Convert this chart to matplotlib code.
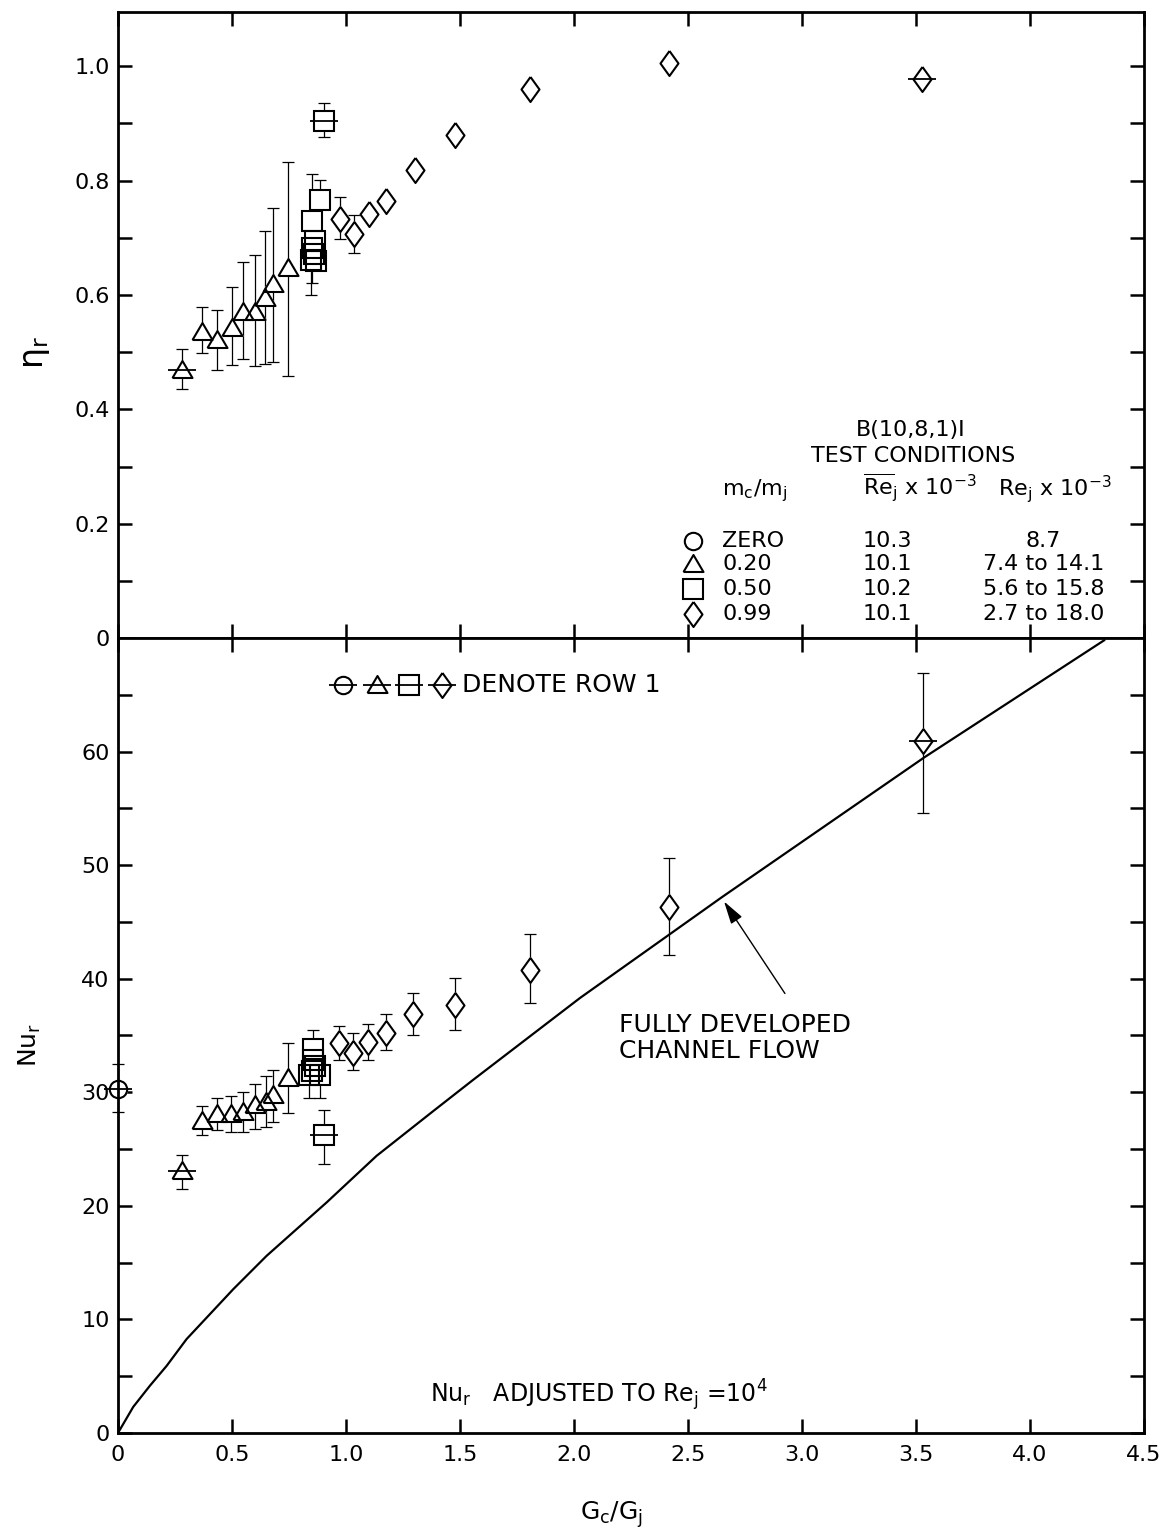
import numpy as np
import matplotlib
matplotlib.use('Agg')
import matplotlib.pyplot as plt
from matplotlib.ticker import MultipleLocator, FixedLocator, FuncFormatter

# ---- eta_r (top panel) ----
tri_x_eta = [0.279, 0.367, 0.433, 0.499, 0.547, 0.601, 0.645, 0.679, 0.747]
tri_eta = [0.468, 0.536, 0.521, 0.542, 0.571, 0.571, 0.594, 0.619, 0.647]
tri_eta_hi = [0.505, 0.579, 0.574, 0.614, 0.657, 0.670, 0.712, 0.752, 0.833]
tri_eta_lo = [0.435, 0.498, 0.469, 0.477, 0.488, 0.476, 0.480, 0.482, 0.458]

sq_x_eta = [0.904, 0.886, 0.851, 0.862, 0.850, 0.858, 0.845, 0.868]
sq_eta = [0.904, 0.766, 0.729, 0.695, 0.683, 0.672, 0.662, 0.660]
sq_eta_hi = [0.935, 0.801, 0.811, np.nan, np.nan, np.nan, np.nan, np.nan]
sq_eta_lo = [0.877, np.nan, np.nan, np.nan, 0.621, np.nan, 0.600, np.nan]

dia_x_eta = [0.974, 1.035, 1.101, 1.175, 1.303, 1.478, 1.807, 2.417, 3.524]
dia_eta = [0.733, 0.707, 0.742, 0.765, 0.819, 0.879, 0.960, 1.005, 0.977]
dia_eta_hi = [0.771, 0.740] + [np.nan] * 7
dia_eta_lo = [0.698, 0.674] + [np.nan] * 7

# ---- Nu_r (bottom panel) ----
circ_x_nu = [0.0]
circ_nu = [30.3]
circ_nu_hi = [32.5]
circ_nu_lo = [28.3]

tri_x_nu = [0.279, 0.367, 0.433, 0.495, 0.549, 0.601, 0.647, 0.679, 0.747]
tri_nu = [23.1, 27.5, 28.05, 28.05, 28.3, 28.85, 29.1, 29.8, 31.3]
tri_nu_hi = [24.45, 28.8, 29.5, 29.7, 30.0, 30.7, 31.4, 32.0, 34.3]
tri_nu_lo = [21.5, 26.2, 26.7, 26.5, 26.5, 26.8, 26.95, 27.4, 28.2]

sq_x_nu = [0.904, 0.857, 0.855, 0.862, 0.850, 0.838, 0.885]
sq_nu = [26.2, 33.8, 32.8, 32.3, 31.9, 31.5, 31.5]
sq_nu_hi = [28.4, 35.5, np.nan, np.nan, np.nan, np.nan, np.nan]
sq_nu_lo = [23.7, np.nan, np.nan, np.nan, np.nan, 29.5, 29.5]

dia_x_nu = [0.971, 1.032, 1.097, 1.175, 1.296, 1.478, 1.807, 2.417, 3.53]
dia_nu = [34.3, 33.5, 34.4, 35.2, 36.85, 37.7, 40.8, 46.35, 60.9]
dia_nu_hi = [35.8, 35.2, 36.0, 36.9, 38.75, 40.1, 43.9, 50.6, 66.9]
dia_nu_lo = [32.8, 32.0, 32.8, 33.7, 35.0, 35.5, 37.9, 42.1, 54.6]

# fully developed channel flow curve
curve_x = [0, 0.067, 0.14, 0.213, 0.301, 0.506, 0.652, 0.915, 1.134, 1.383,
           1.558, 2.026, 2.65, 3.537, 4.325]
curve_nu = [0, 2.3, 4.16, 5.9, 8.27, 12.67, 15.6, 20.3, 24.4, 28.35,
            31.1, 38.3, 47.2, 59.5, 69.8]

# legend table
cond_ratio = ['ZERO', '0.20', '0.50', '0.99']
cond_re_mean = ['10.3', '10.1', '10.2', '10.1']
cond_re_range = ['8.7', '7.4 to 14.1', '5.6 to 15.8', '2.7 to 18.0']

x_ticks = [0, 0.5, 1.0, 1.5, 2.0, 2.5, 3.0, 3.5, 4.0, 4.5]
x_tick_labels = ['0', '0.5', '1.0', '1.5', '2.0', '2.5', '3.0', '3.5', '4.0', '4.5']

TRI = [(-1, -0.75), (1, -0.75), (0, 0.95), (-1, -0.75)]
DIA = [(0, 1), (0.72, 0), (0, -1), (-0.72, 0), (0, 1)]
STYLE = {'o': ('o', 12.5), 'tri': (TRI, 14.4), 's': ('s', 14.4), 'dia': (DIA, 18)}


def draw_series(ax, x, y, lo, hi, kind, row1=None):
    x = np.array(x, float)
    y = np.array(y, float)
    lo = np.array(lo, float)
    hi = np.array(hi, float)
    marker, ms = STYLE[kind]
    zeros = np.zeros_like(y)
    kw = dict(fmt='none', ecolor='k', elinewidth=0.9, capsize=4.5, capthick=0.9,
              zorder=1, clip_on=False)
    ax.errorbar(x, y, yerr=[zeros, hi - y], **kw)
    ax.errorbar(x, y, yerr=[y - lo, zeros], **kw)
    ax.plot(x, y, ls='none', marker=marker, ms=ms, mfc='white', mec='white',
            mew=1.5, zorder=2, clip_on=False)
    ax.plot(x, y, ls='none', marker=marker, ms=ms, mfc='none', mec='k',
            mew=1.5, zorder=3, clip_on=False)
    if row1 is not None:
        ax.plot(x[row1], y[row1], ls='none', marker='_', ms=20, mew=1.3,
                color='k', zorder=4, clip_on=False)


def style_axes(ax):
    for s in ax.spines.values():
        s.set_linewidth(2.0)
    ax.tick_params(which='both', direction='in', length=10, width=1.8,
                   top=True, right=True, labelsize=16)
    ax.tick_params(axis='y', pad=6)
    ax.tick_params(axis='x', pad=9)
    ax.set_xlim(0, 4.5)
    ax.xaxis.set_major_locator(FixedLocator(x_ticks))


def main():
    plt.rcParams['font.family'] = 'DejaVu Sans'
    plt.rcParams['mathtext.default'] = 'regular'

    fig = plt.figure(figsize=(11.59, 15.40), dpi=100)
    ax1 = fig.add_axes([0.1018, 0.5857, 0.8853, 0.4065])
    ax2 = fig.add_axes([0.1018, 0.0695, 0.8853, 0.5162])

    # top panel
    style_axes(ax1)
    ax1.set_ylim(0, 1.095)
    ax1.yaxis.set_major_locator(FixedLocator([0, 0.2, 0.4, 0.6, 0.8, 1.0]))
    ax1.yaxis.set_minor_locator(FixedLocator([0.1, 0.3, 0.5, 0.7, 0.9]))
    ax1.yaxis.set_major_formatter(FuncFormatter(lambda v, p: '0' if v == 0 else f'{v:.1f}'))
    ax1.tick_params(axis='x', labelbottom=False)

    draw_series(ax1, tri_x_eta, tri_eta, tri_eta_lo, tri_eta_hi, 'tri', row1=[0])
    draw_series(ax1, sq_x_eta, sq_eta, sq_eta_lo, sq_eta_hi, 's', row1=[0])
    draw_series(ax1, dia_x_eta, dia_eta, dia_eta_lo, dia_eta_hi, 'dia', row1=[8])

    # test conditions table
    ax1.text(0.773, 0.332, 'B(10,8,1)I', transform=ax1.transAxes, ha='center',
             va='center', fontsize=16)
    ax1.text(0.775, 0.291, 'TEST CONDITIONS', transform=ax1.transAxes, ha='center',
             va='center', fontsize=16)
    ax1.text(0.589, 0.228, r'm$_\mathrm{c}$/m$_\mathrm{j}$', transform=ax1.transAxes,
             ha='left', va='baseline', fontsize=16)
    ax1.text(0.726, 0.228, r'$\overline{\mathrm{Re}}_\mathrm{j}$ x 10$^{-3}$',
             transform=ax1.transAxes, ha='left', va='baseline', fontsize=16)
    ax1.text(0.858, 0.228, r'Re$_\mathrm{j}$ x 10$^{-3}$', transform=ax1.transAxes,
             ha='left', va='baseline', fontsize=16)
    row_y = [0.155, 0.118, 0.078, 0.038]
    kinds = ['o', 'tri', 's', 'dia']
    for yy, k, c1, c2, c3 in zip(row_y, kinds, cond_ratio, cond_re_mean, cond_re_range):
        m, ms = STYLE[k]
        ax1.plot([0.560], [yy], transform=ax1.transAxes, ls='none', marker=m, ms=ms,
                 mfc='none', mec='k', mew=1.5)
        ax1.text(0.589, yy, c1, transform=ax1.transAxes, ha='left', va='center', fontsize=16)
        ax1.text(0.726, yy, c2, transform=ax1.transAxes, ha='left', va='center', fontsize=16)
        ax1.text(0.902, yy, c3, transform=ax1.transAxes, ha='center', va='center', fontsize=16)

    # bottom panel
    style_axes(ax2)
    ax2.set_ylim(0, 70)
    ax2.yaxis.set_major_locator(FixedLocator([0, 10, 20, 30, 40, 50, 60]))
    ax2.yaxis.set_minor_locator(FixedLocator([5, 15, 25, 35, 45, 55, 65]))
    ax2.set_xticklabels(x_tick_labels)

    ax2.plot(curve_x, curve_nu, color='k', lw=1.6, zorder=1)
    draw_series(ax2, circ_x_nu, circ_nu, circ_nu_lo, circ_nu_hi, 'o', row1=[0])
    draw_series(ax2, tri_x_nu, tri_nu, tri_nu_lo, tri_nu_hi, 'tri', row1=[0])
    draw_series(ax2, sq_x_nu, sq_nu, sq_nu_lo, sq_nu_hi, 's', row1=[0])
    draw_series(ax2, dia_x_nu, dia_nu, dia_nu_lo, dia_nu_hi, 'dia', row1=[8])

    # row 1 key
    for xx, k in zip([0.987, 1.136, 1.276, 1.421], kinds):
        m, ms = STYLE[k]
        ax2.plot([xx], [65.9], ls='none', marker=m, ms=ms, mfc='none', mec='k', mew=1.5)
        ax2.plot([xx], [65.9], ls='none', marker='_', ms=20, mew=1.3, color='k')
    ax2.text(1.509, 65.9, 'DENOTE ROW 1', ha='left', va='center', fontsize=18)

    ax2.annotate('', xy=(2.658, 46.8), xytext=(2.925, 38.7),
                 arrowprops=dict(arrowstyle='-|>,head_length=0.7,head_width=0.2',
                                 color='k', lw=1.0, mutation_scale=20,
                                 shrinkA=0, shrinkB=0))
    ax2.text(2.197, 37.0, 'FULLY DEVELOPED\nCHANNEL FLOW', ha='left', va='top',
             fontsize=18, linespacing=1.1)
    ax2.text(1.368, 2.7, r'Nu$_\mathrm{r}$   ADJUSTED TO Re$_\mathrm{j}$ =10$^4$',
             ha='left', va='baseline', fontsize=17)

    fig.text(35 / 1159, 1 - 352 / 1540, r'$\eta_r$', rotation=90, ha='center',
             va='center', fontsize=24)
    fig.text(30 / 1159, 1 - 1045 / 1540, r'Nu$_\mathrm{r}$', rotation=90, ha='center',
             va='center', fontsize=18)
    fig.text(612 / 1159, 1 - 1515 / 1540, r'G$_\mathrm{c}$/G$_\mathrm{j}$', ha='center',
             va='center', fontsize=18)

    plt.savefig('out.png', dpi=100)


if __name__ == '__main__':
    main()
